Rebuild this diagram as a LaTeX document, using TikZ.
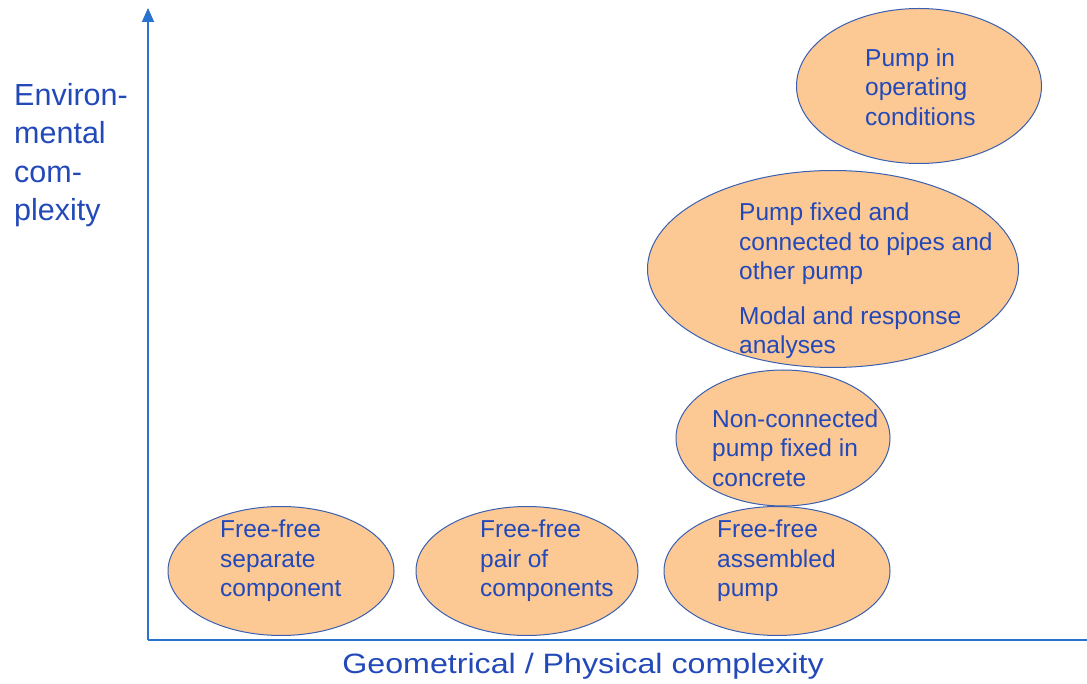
\documentclass[tikz,border=0pt]{standalone}
\usepackage{fontspec}
\usepackage{graphicx}
\setmainfont{Liberation Sans}
\usetikzlibrary{shapes.geometric,arrows.meta}
\definecolor{txtblue}{HTML}{2349B8}
\definecolor{edgeblue}{HTML}{3A5FB0}
\definecolor{axisblue}{HTML}{2A72D0}
\definecolor{fillorange}{HTML}{FCC995}
\begin{document}
\begin{tikzpicture}[x=1pt,y=-1pt,
  blob/.style={ellipse,draw=edgeblue,fill=fillorange,line width=1pt,inner sep=0pt},
  lbl/.style={anchor=west,align=left,inner sep=0pt,text=txtblue,font=\fontsize{24.5}{29.5}\selectfont},
  axis/.style={draw=axisblue,line width=1.6pt}]
\useasboundingbox (0,0) rectangle (1087,684);
\coordinate (o) at (148,640);
\coordinate (ytop) at (148,8);
\coordinate (xend) at (1087,640);
\draw[axis] (o) -- (xend);
\draw[axis,-{Triangle[length=14pt,width=12pt]}] (o) -- (ytop);
\node[blob,minimum width=226pt,minimum height=129pt] (e1) at (281,571) {};
\node[blob,minimum width=222pt,minimum height=129pt] (e2) at (527,571) {};
\node[blob,minimum width=226pt,minimum height=129pt] (e3) at (777,571) {};
\node[blob,minimum width=214pt,minimum height=136pt] (e4) at (783,438) {};
\node[blob,minimum width=371pt,minimum height=197pt] (e5) at (833,269) {};
\node[blob,minimum width=245pt,minimum height=155pt] (e6) at (919,86) {};
\node[lbl] (t1) at (220,561) {Free-free\\separate\\component};
\node[lbl] (t2) at (480,561) {Free-free\\pair of\\components};
\node[lbl] (t3) at (717,561) {Free-free\\assembled\\pump};
\node[lbl] (t4) at (712,448) {Non-connected\\pump fixed in\\concrete};
\node[lbl] (t5) at (739,281) {Pump fixed and\\connected to pipes and\\other pump\\[15pt]Modal and response\\analyses};
\node[lbl] (t6) at (865,87) {Pump in\\operating\\conditions};
\node[anchor=west,align=left,inner sep=0pt,text=txtblue,font=\fontsize{30.5}{38.5}\selectfont] (ylab) at (14,155) {Environ-\\mental\\com-\\plexity};
\node[inner sep=0pt,text=txtblue,font=\fontsize{28}{32}\selectfont] (xlab) at (583,666) {\scalebox{1.15}[1]{Geometrical / Physical complexity}};
\end{tikzpicture}
\end{document}
